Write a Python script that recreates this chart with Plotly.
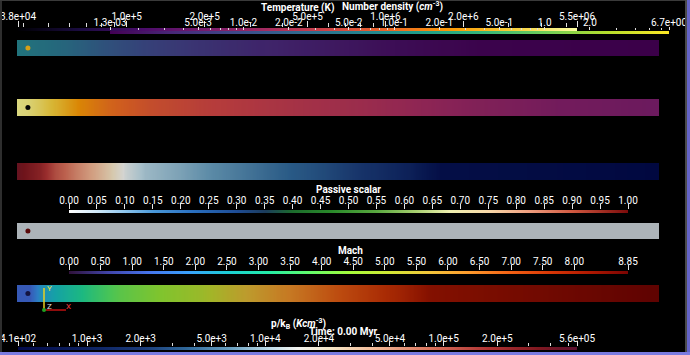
import numpy as np
import plotly.graph_objects as go

W, H = 690, 355

# ---------------- data (values read along each strip, position 0..1) ----------------
pos_density = [0.0, 0.067, 0.129, 0.207, 0.285, 0.379, 0.488, 0.597, 0.721, 1.0]
number_density = [0.061, 0.0365, 0.0169, 8.5e-3, 5.6e-3, 3.6e-3, 2.6e-3, 1.8e-3, 1.4e-3, 1.3e-3]

pos_temp = [0.0, 0.015, 0.036, 0.067, 0.098, 0.145, 0.207, 0.285, 0.41, 0.565, 0.72, 0.846, 1.0]
temperature = [5.0e6, 4.7e6, 3.9e6, 2.7e6, 1.75e6, 1.17e6, 8.3e5, 6.5e5, 5.0e5, 3.9e5, 2.8e5, 2.3e5, 2.1e5]

pos_press = [0.0, 0.036, 0.059, 0.090, 0.121, 0.145, 0.168, 0.199, 0.254, 0.316, 0.394,
             0.472, 0.550, 0.612, 0.659, 1.0]
pressure = [3.9e5, 2.35e5, 1.14e5, 6.4e4, 3.9e4, 2.5e4, 1.4e4, 9.8e3, 7.9e3, 5.9e3, 4.1e3,
            2.9e3, 1.87e3, 1.13e3, 5.5e2, 4.1e2]

pos_passive = [0.0, 1.0]
passive = [0.02, 0.02]

pos_mach = [0.0, 0.02, 0.036, 0.067, 0.114, 0.160, 0.223, 0.285, 0.347, 0.410, 0.472,
            0.534, 0.597, 0.643, 1.0]
mach = [1.24, 1.24, 2.12, 2.66, 3.36, 3.98, 4.43, 4.87, 5.58, 6.20, 6.73, 7.26, 7.79, 8.32, 8.85]

probe_pos = [0.017]

# colour-bar ranges and tick labels
temp_range = [3.8e4, 5.5e6]
temp_ticks = [3.8e4, 1e5, 2e5, 5e5, 1e6, 2e6, 5.5e6]
temp_labels = ["3.8e+04", "1.0e+5", "2.0e+5", "5.0e+5", "1.0e+6", "2.0e+6", "5.5e+06"]

dens_range = [1.3e-3, 6.7]
dens_ticks = [1.3e-3, 5e-3, 1e-2, 2e-2, 5e-2, 1e-1, 2e-1, 5e-1, 1.0, 2.0, 6.7]
dens_labels = ["1.3e-03", "5.0e-3", "1.0e-2", "2.0e-2", "5.0e-2", "1.0e-1", "2.0e-1",
               "5.0e-1", "1.0", "2.0", "6.7e+00"]

passive_range = [0.0, 1.0]
passive_ticks = [0.00, 0.05, 0.10, 0.15, 0.20, 0.25, 0.30, 0.35, 0.40, 0.45, 0.50,
                 0.55, 0.60, 0.65, 0.70, 0.75, 0.80, 0.85, 0.90, 0.95, 1.00]
passive_labels = ["%.2f" % v for v in passive_ticks]

mach_range = [0.0, 8.85]
mach_ticks = [0.0, 0.5, 1.0, 1.5, 2.0, 2.5, 3.0, 3.5, 4.0, 4.5, 5.0, 5.5, 6.0, 6.5, 7.0,
              7.5, 8.0, 8.85]
mach_labels = ["%.2f" % v for v in mach_ticks]

press_range = [4.1e2, 5.6e5]
press_ticks = [4.1e2, 1e3, 2e3, 5e3, 1e4, 2e4, 5e4, 1e5, 2e5, 5.6e5]
press_labels = ["4.1e+02", "1.0e+3", "2.0e+3", "5.0e+3", "1.0e+4", "2.0e+4", "5.0e+4",
                "1.0e+5", "2.0e+5", "5.6e+05"]

# ---------------- colour maps ----------------
cs_temp = "Inferno"
cs_dens = "Viridis"
cs_mach = "Turbo"
cs_passive = [[0.00, "#ffffff"], [0.05, "#cfe8f8"], [0.10, "#8cc4ec"], [0.15, "#4a98d8"],
              [0.22, "#2a70c0"], [0.30, "#1e4c94"], [0.35, "#1c3c5c"], [0.40, "#1c6c2c"],
              [0.47, "#2a8a2a"], [0.55, "#5aa840"], [0.62, "#a8d070"], [0.68, "#f0f0b0"],
              [0.75, "#f8d8a8"], [0.82, "#f0a080"], [0.90, "#d05840"], [1.00, "#7a0a0a"]]
cs_press = [[0.00, "#020a4a"], [0.12, "#0c2060"], [0.22, "#1a3a78"], [0.30, "#30689a"],
            [0.38, "#6aa0c0"], [0.45, "#c0dce8"], [0.50, "#f4f4f0"], [0.56, "#f6e6c6"],
            [0.64, "#f2b896"], [0.74, "#d8705a"], [0.84, "#b03434"], [0.93, "#801820"],
            [1.00, "#5a1030"]]

FONT = "Roboto"
fig = go.Figure()
layout_axes = {}


def xdom(x0, x1):
    return [x0 / W, x1 / W]


def ydom(ytop, ybot):
    return [1 - ybot / H, 1 - ytop / H]


axis_count = [0]


def new_axes():
    axis_count[0] += 1
    i = axis_count[0]
    return ("x" if i == 1 else "x%d" % i), ("y" if i == 1 else "y%d" % i), i


def add_strip(pos, vals, cs, vmin, vmax, ytop, ybot, opacity, log=False,
              probe_color=None):
    xa, ya, i = new_axes()
    z = np.log10(vals) if log else np.asarray(vals, float)
    zmin = np.log10(vmin) if log else vmin
    zmax = np.log10(vmax) if log else vmax
    fig.add_trace(go.Heatmap(x=pos, y=[0, 1], z=[z, z], zsmooth="best", colorscale=cs,
                             zmin=zmin, zmax=zmax, showscale=False, opacity=opacity,
                             hoverinfo="skip", xaxis=xa, yaxis=ya))
    if probe_color is not None:
        fig.add_trace(go.Scatter(x=probe_pos, y=[0.5], mode="markers",
                                 marker=dict(size=5, color=probe_color),
                                 hoverinfo="skip", xaxis=xa, yaxis=ya))
    sfx = "" if i == 1 else str(i)
    layout_axes["xaxis" + sfx] = dict(domain=xdom(17, 659), range=[0, 1], visible=False,
                                      fixedrange=True, automargin=False, anchor=ya)
    layout_axes["yaxis" + sfx] = dict(domain=ydom(ytop, ybot), range=[0, 1], visible=False,
                                      fixedrange=True, automargin=False, anchor=xa)


def minor_vals(lo, hi):
    out = []
    for d in range(int(np.floor(np.log10(lo))), int(np.ceil(np.log10(hi))) + 1):
        for m in range(1, 10):
            v = m * 10.0 ** d
            if lo < v < hi:
                out.append(np.log10(v))
    return out


def add_bar(rng, ticks, labels, cs, x0, x1, ytop, ybot, ticklen, standoff, log=False):
    xa, ya, i = new_axes()
    if log:
        lo, hi = np.log10(rng[0]), np.log10(rng[1])
        tv = list(np.log10(ticks))
        minor = dict(tickmode="array", tickvals=minor_vals(rng[0], rng[1]), ticks="outside",
                     ticklen=max(ticklen - 2, 2), tickcolor="#dddddd", tickwidth=1)
    else:
        lo, hi = rng
        tv = ticks
        minor = None
    fig.add_trace(go.Heatmap(x=[lo, hi], y=[0, 1], z=[[lo, hi], [lo, hi]], zsmooth="best",
                             colorscale=cs, zmin=lo, zmax=hi, showscale=False,
                             hoverinfo="skip", xaxis=xa, yaxis=ya))
    sfx = "" if i == 1 else str(i)
    ax = dict(domain=xdom(x0, x1), range=[lo, hi], side="top", anchor=ya,
              tickmode="array", tickvals=tv, ticktext=labels, ticks="outside",
              ticklen=ticklen, tickcolor="#e6e6e6", tickwidth=1, tickangle=0,
              tickfont=dict(family=FONT, size=10, color="white"), automargin=False,
              ticklabeloverflow="allow", ticklabelstandoff=standoff,
              showgrid=False, zeroline=False, showline=False, fixedrange=True)
    if minor:
        ax["minor"] = minor
    layout_axes["xaxis" + sfx] = ax
    layout_axes["yaxis" + sfx] = dict(domain=ydom(ytop, ybot), range=[0, 1], visible=False,
                                      fixedrange=True, anchor=xa, automargin=False)


# strips
add_strip(pos_density, number_density, cs_dens, dens_range[0], dens_range[1], 40, 56, 0.88,
          log=True, probe_color="#d4a017")
add_strip(pos_temp, temperature, cs_temp, temp_range[0], temp_range[1], 99, 116, 0.87,
          log=True, probe_color="#050505")
add_strip(pos_press, pressure, cs_press, press_range[0], press_range[1], 163, 180, 0.87,
          log=True)
add_strip(pos_passive, passive, cs_passive, 0, 1, 223, 239, 0.73, probe_color="#5a0a0a")
add_strip(pos_mach, mach, cs_mach, mach_range[0], mach_range[1], 285, 302, 0.78,
          probe_color="#141440")

# colour bars
add_bar(temp_range, temp_ticks, temp_labels, cs_temp, 18, 577, 28, 31, 6, -3, log=True)
add_bar(dens_range, dens_ticks, dens_labels, cs_dens, 110, 669, 31, 34, 3, -3, log=True)
add_bar(passive_range, passive_ticks, passive_labels, cs_passive, 69, 628, 210, 213, 5, -4)
add_bar(mach_range, mach_ticks, mach_labels, cs_mach, 69, 628, 271, 274, 5, -4)
add_bar(press_range, press_ticks, press_labels, cs_press, 18, 577, 347, 350, 5, -5, log=True)


def ann(text, x, y, size=10, color="white", xanchor="center"):
    return dict(text=text, x=x / W, y=1 - y / H, xref="paper", yref="paper",
                xanchor=xanchor, yanchor="middle", showarrow=False,
                font=dict(family=FONT, size=size, color=color))


annotations = [
    ann("<b>Temperature (K)</b>", 298, 8),
    ann("<b>Number density (<i>cm</i><sup>-3</sup>)</b>", 392, 7),
    ann("<b>Passive scalar</b>", 348, 190),
    ann("<b>Mach</b>", 350, 251),
    ann("<b>p/k<sub>B</sub> (<i>Kcm</i><sup>-3</sup>)</b>", 298, 324),
    ann("<b>Time: 0.00 Myr</b>", 343, 331),
    ann("Y", 49, 288, size=8, color="#f0e040"),
    ann("Z", 49, 306, size=8, color="#e0e0e0"),
    ann("X", 68, 306, size=8, color="#ff4040"),
]


def rect(x0, y0, x1, y1, color):
    return dict(type="rect", xref="paper", yref="paper", x0=x0 / W, x1=x1 / W,
                y0=1 - y1 / H, y1=1 - y0 / H, fillcolor=color, line=dict(width=0),
                layer="above")


def line(x0, y0, x1, y1, color, width=1.5):
    return dict(type="line", xref="paper", yref="paper", x0=x0 / W, x1=x1 / W,
                y0=1 - y0 / H, y1=1 - y1 / H, line=dict(color=color, width=width),
                layer="above")


shapes = [
    rect(0, 0, 2, H, "#2e2e2e"),
    rect(0, 0, W, 1, "#3a3a3a"),
    rect(685, 0, 687, H, "#4a4a4a"),
    rect(687, 0, W, H, "#6464c8"),
    rect(0, 352, W, H, "#7b7be0"),
    line(44, 288, 44, 310, "#e8d020"),
    line(44, 310, 66, 310, "#c01010"),
    dict(type="circle", xref="paper", yref="paper", x0=42 / W, x1=46 / W,
         y0=1 - 312 / H, y1=1 - 308 / H, fillcolor="#20a020", line=dict(width=0),
         layer="above"),
]

fig.update_layout(
    template="none",
    width=W, height=H, margin=dict(l=0, r=0, t=0, b=0, pad=0, autoexpand=False),
    paper_bgcolor="black", plot_bgcolor="black", showlegend=False,
    annotations=annotations, shapes=shapes, **layout_axes,
)

fig.write_html("out.html", config={"displayModeBar": False},
               post_script="document.body.style.margin='0';"
                           "document.body.style.background='black';")
